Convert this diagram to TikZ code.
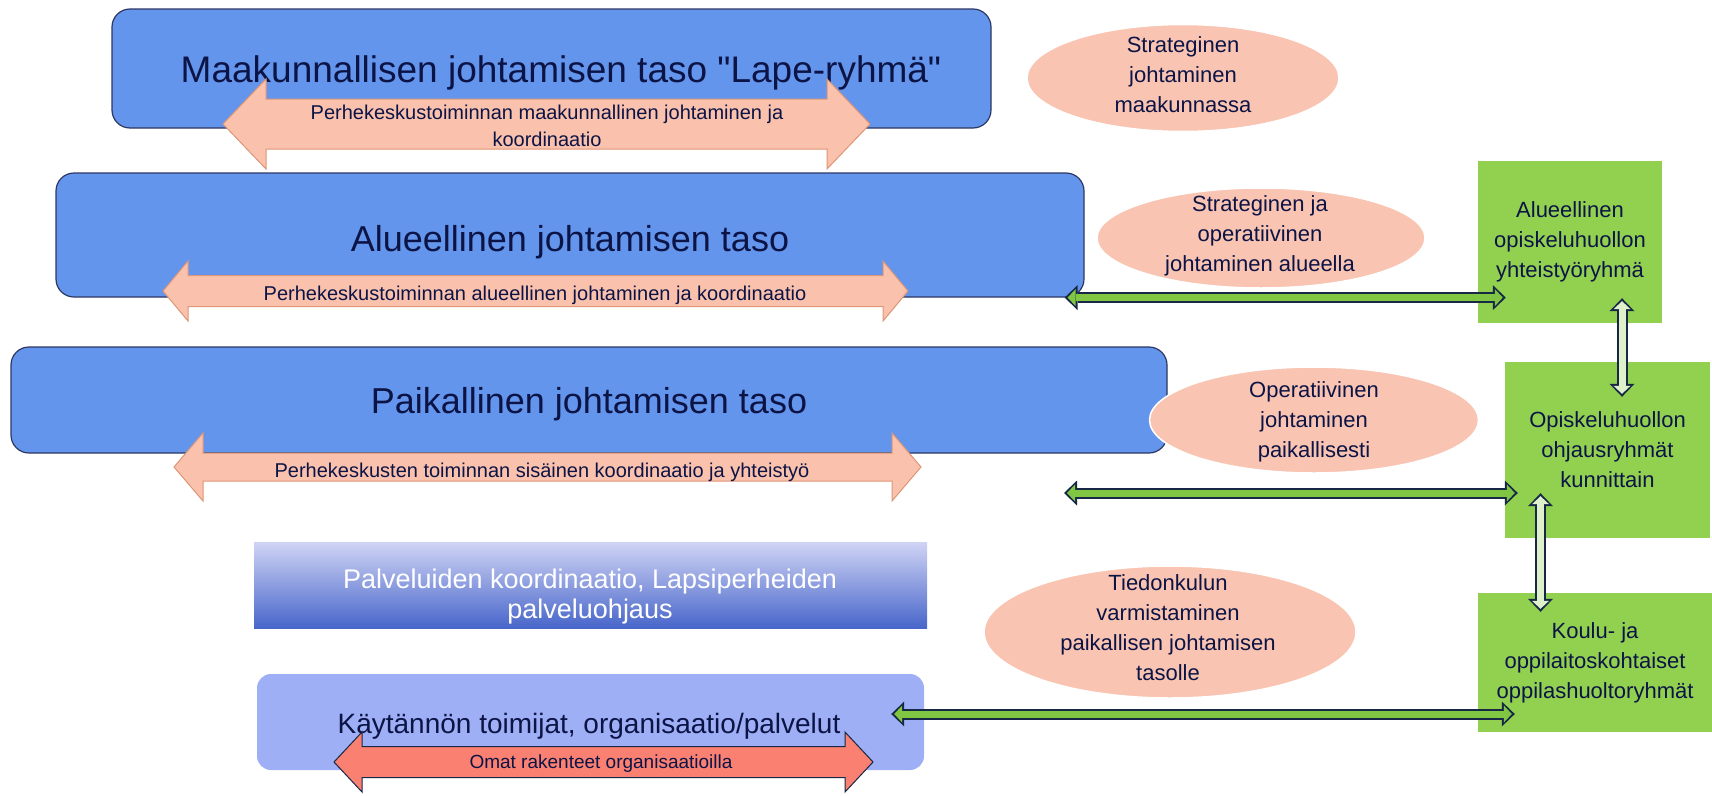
\documentclass[tikz,border=0pt]{standalone}
\usepackage[svgnames]{xcolor}
\usepackage{fontspec}
\setmainfont{Liberation Sans}
\usetikzlibrary{shapes.geometric,arrows.meta,calc}
\colorlet{levelBox}{CornflowerBlue}
\definecolor{levelEdge}{RGB}{45,55,100}
\definecolor{inkNavy}{RGB}{12,20,70}
\definecolor{peachArrow}{RGB}{250,193,172}
\definecolor{peachEdge}{RGB}{222,150,118}
\definecolor{peachOval}{RGB}{249,196,177}
\colorlet{ownArrow}{Salmon}
\definecolor{groupGreen}{RGB}{146,208,80}
\definecolor{linkGreen}{RGB}{128,198,66}
\colorlet{linkPale}{groupGreen!30!white}
\definecolor{linkEdge}{RGB}{22,40,70}
\definecolor{practiceBox}{RGB}{158,175,245}
\definecolor{fadeTop}{RGB}{208,212,245}
\definecolor{fadeBottom}{RGB}{72,102,202}

\tikzset{
  pics/level arrow/.style args={#1/#2/#3/#4}{
    code={
      \path[pic actions] (-#1,0) -- (-#1+#4,-#3) -- (-#1+#4,-#2) -- (#1-#4,-#2)
        -- (#1-#4,-#3) -- (#1,0) -- (#1-#4,#3) -- (#1-#4,#2) -- (-#1+#4,#2)
        -- (-#1+#4,#3) -- cycle;
    }
  }
}

\begin{document}
\begin{tikzpicture}[
  x=1pt, y=-1pt,
  level/.style={
    draw=levelEdge,
    line width=1.2pt,
    fill=levelBox,
    rounded corners=18pt,
    inner sep=0pt
  },
  level title/.style={
    font=\fontsize{36}{40}\selectfont,
    text=inkNavy,
    anchor=base,
    inner sep=0pt
  },
  band/.style={
    fill=peachArrow,
    draw=peachEdge,
    line width=1pt
  },
  band text/.style={
    font=\fontsize{20}{27}\selectfont,
    text=inkNavy,
    align=center,
    inner sep=0pt
  },
  oval/.style={
    ellipse,
    fill=peachOval,
    draw=white,
    line width=1.5pt,
    inner sep=0pt
  },
  oval text/.style={
    font=\fontsize{22}{30}\selectfont,
    text=inkNavy,
    align=center,
    inner sep=0pt
  },
  team/.style={
    fill=groupGreen,
    inner sep=0pt,
    font=\fontsize{22}{30}\selectfont,
    text=inkNavy,
    align=center
  },
  green link/.style={
    draw=linkEdge,
    line width=11pt,
    {Triangle[length=13pt,width=25pt,line width=0pt]}-{Triangle[length=13pt,width=25pt,line width=0pt]},
    postaction={
      draw=#1,
      line width=7pt,
      shorten <=3pt,
      shorten >=3pt,
      {Triangle[length=8pt,width=17pt,line width=0pt]}-{Triangle[length=8pt,width=17pt,line width=0pt]}
    }
  },
  green link/.default=linkGreen
]
\useasboundingbox (0,0) rectangle (1712,795);

% leadership levels
\node[level, minimum width=879pt, minimum height=119pt] (maak) at (551.5,68.5) {};
\node[level title, font=\fontsize{37}{40}\selectfont] (maakT) at (561,82) {Maakunnallisen johtamisen taso \textquotedbl Lape-ryhmä\textquotedbl};
\node[level, minimum width=1028pt, minimum height=124pt] (alue) at (570,235) {};
\node[level title] (alueT) at (570,251) {Alueellinen johtamisen taso};
\node[level, minimum width=1156pt, minimum height=106pt] (paik) at (589,400) {};
\node[level title] (paikT) at (589,413) {Paikallinen johtamisen taso};

% coordination bands
\pic[band] at (546.5,124) {level arrow=323.5/25/45/43};
\node[band text] (maakA) at (547,126) {Perhekeskustoiminnan maakunnallinen johtaminen ja\\koordinaatio};
\pic[band] at (535.5,291) {level arrow=372.5/15.5/30/25};
\node[band text, anchor=base] (alueA) at (535,300) {Perhekeskustoiminnan alueellinen johtaminen ja koordinaatio};
\pic[band] at (547.5,467) {level arrow=373.5/14/34/29};
\node[band text, anchor=base] (paikA) at (542,477) {Perhekeskusten toiminnan sisäinen koordinaatio ja yhteistyö};

% services and practice
\node[minimum width=673pt, minimum height=86pt, top color=fadeTop, bottom color=fadeBottom, inner sep=0pt] (palv) at (590.5,585) {};
\node[font=\fontsize{27}{30}\selectfont, text=white, align=center, inner sep=0pt] (palvT) at (590,597) {Palveluiden koordinaatio, Lapsiperheiden\\palveluohjaus};
\node[fill=practiceBox, rounded corners=14pt, minimum width=667pt, minimum height=96pt, inner sep=0pt] (kayt) at (590.5,722) {};
\node[level title, font=\fontsize{28}{32}\selectfont] (kaytT) at (589,733) {Käytännön toimijat, organisaatio/palvelut};
\pic[band, fill=ownArrow, draw=linkEdge] at (603.5,762) {level arrow=269.5/15.5/30/28};
\node[band text, anchor=base, font=\fontsize{19}{24}\selectfont] (kaytA) at (601,768) {Omat rakenteet organisaatioilla};

% management ovals
\node[oval, minimum width=312pt, minimum height=107pt] (strat) at (1183,78) {};
\node[oval text] (stratT) at (1183,75) {Strateginen\\johtaminen\\maakunnassa};
\node[oval, minimum width=328pt, minimum height=100pt] (stratop) at (1261,238) {};
\node[oval text] (stratopT) at (1260,236) {Strateginen ja\\operatiivinen\\johtaminen alueella};
\node[oval, minimum width=329pt, minimum height=106pt] (oper) at (1314,420) {};
\node[oval text] (operT) at (1314,422) {Operatiivinen\\johtaminen\\paikallisesti};
\node[oval, minimum width=372pt, minimum height=132pt] (tieto) at (1170,632) {};
\node[oval text] (tietoT) at (1168,628) {Tiedonkulun\\varmistaminen\\paikallisen johtamisen\\tasolle};

% student welfare groups
\node[team, minimum width=184pt, minimum height=162pt] (g1) at (1570,242) {Alueellinen\\opiskeluhuollon\\yhteistyöryhmä};
\node[team, minimum width=205pt, minimum height=176pt] (g2) at (1607.5,450) {Opiskeluhuollon\\ohjausryhmät\\kunnittain};
\node[team, minimum width=234pt, minimum height=139pt] (g3) at (1595,662.5) {Koulu- ja\\oppilaitoskohtaiset\\oppilashuoltoryhmät};

% links
\coordinate (paikLink) at (1064,493);
\draw[green link] ($(alue.south east)+(-20,0)$) -- ($(g1.west |- alue.south east)+(28,0)$);
\draw[green link] (paikLink) -- ($(g2.west |- paikLink)+(13,0)$);
\draw[green link] ($(kayt.east)+(-33,-8)$) -- ($(g3.west |- kayt.east)+(37,-8)$);
\draw[green link=linkPale] ($(g1.south)+(52,-25)$) -- ($(g1.south |- g2.north)+(52,35)$);
\draw[green link=linkPale] ($(g2.south)+(-67,-45)$) -- ($(g2.south |- g3.north)+(-67,19)$);
\end{tikzpicture}
\end{document}
